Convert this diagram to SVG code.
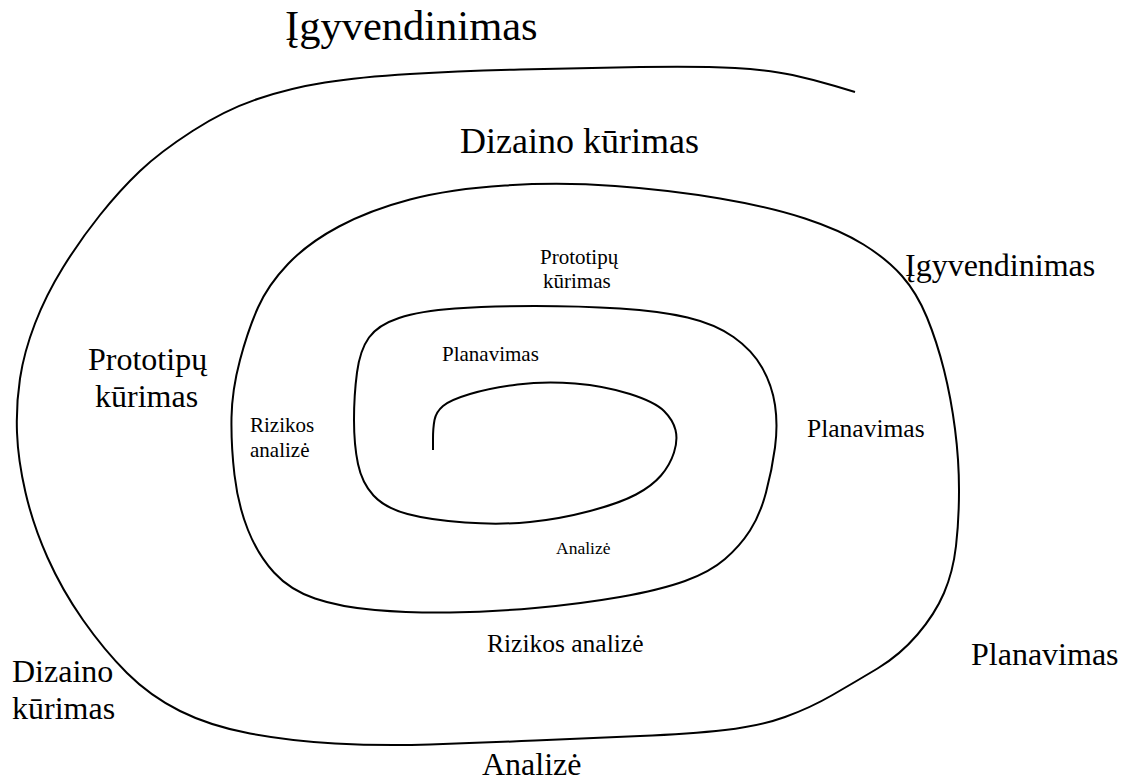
<svg xmlns="http://www.w3.org/2000/svg" width="1123" height="781" viewBox="0 0 1123 781">
  <style>
    .spiral { fill: none; stroke: #000; stroke-width: 2; stroke-linecap: butt; stroke-linejoin: round; }
    text { font-family: "Liberation Serif", "Times New Roman", serif; fill: #000; }
    .xl { font-size: 42.5px; }
    .xm { font-size: 36px; }
    .lg { font-size: 32px; }
    .md { font-size: 25.5px; }
    .sm { font-size: 21px; }
    .xs { font-size: 17.5px; }
  </style>
  <rect width="1123" height="781" fill="#fff"/>

  <!-- spiral, drawn from the centre outwards -->
  <g id="connectors">
    <path class="spiral" d="M433,450 L433,439
      Q433,428 434.5,420 Q436,412 443,406 Q450,400 470,394 Q490,388 517.5,384.5
      Q545,381 575,383.5 Q605,386 630,394 Q655,402 664,411 Q673,420 675.5,430
      Q678,440 674,452.5 Q670,465 661,475.5 Q652,486 636,494.5 Q620,503 590,511
      Q560,519 530,522 Q500,525 465,522.5 Q430,520 407.5,514 Q385,508 373.5,495.5
      Q362,483 358,464 Q354,445 354,420 Q354,395 357,372.5 Q360,350 369,337.5
      Q378,325 399,318 Q420,311 455,308.5 Q490,306 535,306 Q580,306 620,308.5
      Q660,311 687.5,317.5 Q715,324 733.5,337 Q752,350 762,367.5 Q772,385 775,405
      Q778,425 775,447.5 Q772,470 766,492.5 Q760,515 750,530.5 Q740,546 725,559
      Q710,572 685,581 Q660,590 620,597 Q580,604 535,608 Q490,612 450,612.5
      Q410,613 375,610 Q340,607 315,598.5 Q290,590 274,572.5 Q258,555 248,530
      Q238,505 234.5,475 Q231,445 231.5,417.5 Q232,390 240,360 Q248,330 258,307.5
      Q268,285 288,264 Q308,243 339,226.5 Q370,210 410,199.5 Q450,189 505,185.5
      Q560,182 615,186 Q670,190 720,198.5 Q770,207 805,218.5 Q840,230 863.5,244.5
      Q887,259 902,276 Q917,293 927,317.5 Q937,342 944,370 Q951,398 955,429
      Q959,460 959,490 Q959,520 956,546 Q953,572 944,593 Q935,614 917.5,634.5
      Q900,655 877.5,668.5 Q855,682 832.5,695 Q810,708 785,717 Q760,726 725,730
      Q690,734 640,736 Q590,738 535,740.5 Q480,743 430,744.5 Q380,746 335,743.5
      Q290,741 250,733.5 Q210,726 180,711 Q150,696 127,673 Q104,650 83,620
      Q62,590 47.5,557.5 Q33,525 25.5,492.5 Q18,460 17,432.5 Q16,405 20,378.5
      Q24,352 35,323.5 Q46,295 63,267.5 Q80,240 100,215 Q120,190 140,171
      Q160,152 192.5,131 Q225,110 257.5,99 Q290,88 325,82.5 Q360,77 410,74
      Q460,71 520,69.5 Q580,68 640,67 Q700,66 735,68 Q770,70 792.5,75
      Q815,80 835,86 L855,92"/>
  </g>

  <g font-family="Liberation Serif">
    <!-- outer turn -->
    <g id="n-igyvendinimas-top"><text class="xl" x="285" y="40">Įgyvendinimas</text></g>
    <g id="n-prototipu-outer"><text class="lg" x="88" y="370">Prototipų</text><text class="lg" x="95" y="407">kūrimas</text></g>
    <g id="n-dizaino-outer"><text class="lg" x="12" y="682">Dizaino</text><text class="lg" x="12" y="719">kūrimas</text></g>
    <g id="n-analize-outer"><text class="lg" x="482" y="775">Analizė</text></g>
    <g id="n-planavimas-outer"><text class="lg" x="971" y="665">Planavimas</text></g>

    <!-- middle turn -->
    <g id="n-dizaino-mid"><text class="xm" x="460" y="153">Dizaino kūrimas</text></g>
    <g id="n-igyvendinimas-mid"><text class="lg" x="905" y="276">Įgyvendinimas</text></g>
    <g id="n-planavimas-mid"><text class="md" x="807" y="437">Planavimas</text></g>
    <g id="n-rizikos-mid"><text class="md" x="487" y="652">Rizikos analizė</text></g>

    <!-- inner turn -->
    <g id="n-prototipu-inner"><text class="sm" x="540" y="264">Prototipų</text><text class="sm" x="543" y="288">kūrimas</text></g>
    <g id="n-rizikos-inner"><text class="sm" x="250" y="432">Rizikos</text><text class="sm" x="250" y="457">analizė</text></g>
    <g id="n-planavimas-inner"><text class="sm" x="442" y="361">Planavimas</text></g>
    <g id="n-analize-inner"><text class="xs" x="556" y="554">Analizė</text></g>
  </g>
</svg>
